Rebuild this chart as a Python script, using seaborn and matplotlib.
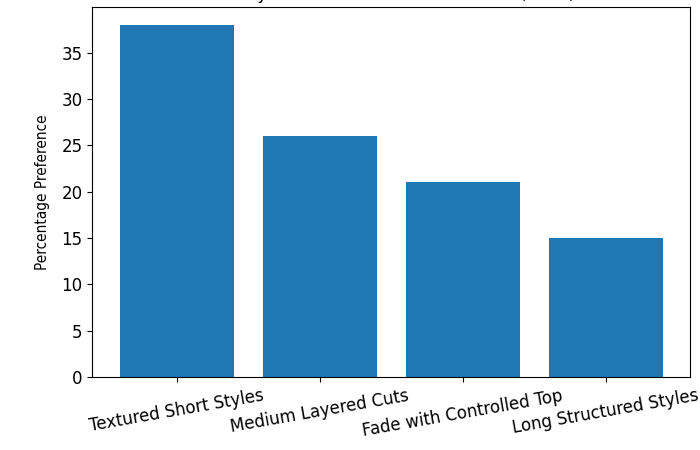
import matplotlib
matplotlib.use("Agg")
import matplotlib.pyplot as plt
import seaborn as sns
import pandas as pd

# survey data
styles = ["Textured Short Styles", "Medium Layered Cuts",
          "Fade with Controlled Top", "Long Structured Styles"]
preference = [38, 26, 21, 15]

df = pd.DataFrame({"style": styles, "pct": preference})

fig = plt.figure(figsize=(7, 4.5), dpi=100)
ax = fig.add_axes([0.132, 0.162, 0.854, 0.822])

sns.barplot(data=df, x="style", y="pct", color="#1f77b4", saturation=1,
            width=0.8, ax=ax)

ax.set_xlim(-0.59, 3.59)
ax.set_ylim(0, 39.9)
ax.set_title("Hairstyle Preferences of Modern Men (2024)", fontsize=12)
ax.set_xlabel("")
ax.set_ylabel("Percentage Preference", fontsize=11, fontstretch="condensed",
              labelpad=8)
ax.tick_params(axis="both", labelsize=12)
plt.setp(ax.get_xticklabels(), rotation=10, ha="center")

fig.savefig("out.png", dpi=100)
